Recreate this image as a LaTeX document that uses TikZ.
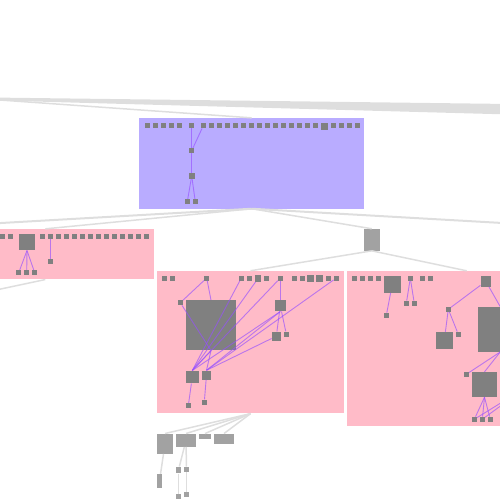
\documentclass[tikz,border=0pt]{standalone}
\usetikzlibrary{calc}
\definecolor{morado}{RGB}{185,172,255}
\definecolor{rosa}{RGB}{255,187,200}
\definecolor{gris}{RGB}{128,128,128}
\definecolor{grisclaro}{RGB}{162,162,162}
\definecolor{linea}{RGB}{222,222,222}
\definecolor{violeta}{RGB}{150,80,255}

\begin{document}
\begin{tikzpicture}[x=1pt, y=-1pt,
  caja/.style={inner sep=0pt, draw=none},
  nodo/.style={fill=gris, inner sep=0pt, minimum size=#1},
  nodo/.default=5pt,
  hoja/.style 2 args={fill=grisclaro, inner sep=0pt, minimum width=#1, minimum height=#2},
  enlace/.style={draw=linea, line width=1.5pt},
  arista/.style={draw=violeta, draw opacity=0.65, line width=0.9pt}]
  \useasboundingbox (0,0) rectangle (500,500);
  \clip (0,0) rectangle (500,500);
  % franja superior
  \fill[linea] (-10,97.5) -- (510,104) -- (510,114.5) -- (-10,100.3) -- cycle;
  % cajas
  \node[caja, fill=morado, minimum width=225pt, minimum height=90.5pt] (morado) at (251.7,163.3) {};
  \node[caja, fill=rosa, minimum width=217pt, minimum height=50.3pt] (rosaI) at (45.3,254.2) {};
  \node[caja, fill=rosa, minimum width=187pt, minimum height=142.5pt] (rosaM) at (250.5,342.2) {};
  \node[caja, fill=rosa, minimum width=239.4pt, minimum height=155pt] (rosaD) at (466.7,348.5) {};
  \node[hoja={15.7pt}{21.7pt}] (g) at (371.8,239.8) {};
  % puntos fuera del dibujo
  \coordinate (fArriba) at (-20,98.6);
  \coordinate (fIzq) at (-20,224.2);
  \coordinate (fDer) at (520,224);
  \coordinate (fAbajo) at (-20,293.4);
  \coordinate (fR) at (525,388);
  % enlaces grises
  \draw[enlace] (fArriba) -- (morado.north);
  \draw[enlace, line width=2pt] (morado.south) -- (fIzq);
  \draw[enlace, line width=2pt] (morado.south) -- (fDer);
  \draw[enlace] (morado.south) -- (rosaI.north);
  \draw[enlace] (morado.south) -- (g.north);
  \draw[enlace] (g.south) -- (rosaM.north);
  \draw[enlace] (g.south) -- (rosaD.north);
  \draw[enlace] (rosaI.south) -- (fAbajo);
  % caja morada
  \foreach \i in {0,...,4} \node[nodo] (pa\i) at ({147.3+8*\i},125.7) {};
  \node[nodo] (pb) at (191.7,125.7) {};
  \foreach \i in {0,...,14} \node[nodo] (pc\i) at ({203.3+8*\i},125.7) {};
  \node[nodo=7pt] (pd) at (324.3,126.5) {};
  \foreach \i in {0,...,3} \node[nodo] (pe\i) at ({333.7+8*\i},125.7) {};
  \node[nodo] (p1) at (191.7,150.7) {};
  \node[nodo=6pt] (p2) at (191.7,176) {};
  \node[nodo] (p3) at (187.3,201.7) {};
  \node[nodo] (p4) at (195.3,201.7) {};
  \draw[arista] (pb) -- (p1);
  \draw[arista] (pc0) -- (p1);
  \draw[arista] (p1) -- (p2);
  \draw[arista] (p2) -- (p3);
  \draw[arista] (p2) -- (p4);
  % caja rosa izquierda
  \node[nodo] (ia0) at (2.7,236.7) {};
  \node[nodo] (ia1) at (10.7,236.7) {};
  \node[nodo=16pt] (ib) at (27,242.3) {};
  \foreach \i in {0,...,13} \node[nodo] (ic\i) at ({42.7+8*\i},236.7) {};
  \foreach \i in {0,1,2} \node[nodo] (id\i) at ({18.7+8*\i},272.7) {};
  \node[nodo] (ie) at (50.7,261.7) {};
  \foreach \i in {0,1,2} \draw[arista] (ib.south) -- (id\i);
  \draw[arista] (ic1) -- (ie);
  % caja rosa central
  \node[nodo] (ma0) at (164.3,278) {};
  \node[nodo] (ma1) at (172.3,278) {};
  \node[nodo] (mb) at (206.7,278) {};
  \node[nodo] (mc0) at (241.3,278) {};
  \node[nodo] (mc1) at (249.3,278) {};
  \node[nodo=6.5pt] (mc2) at (258,278.5) {};
  \node[nodo] (mc3) at (266.3,278) {};
  \node[nodo] (md) at (280.3,278) {};
  \node[nodo] (me0) at (294.3,278) {};
  \node[nodo] (me1) at (302.3,278) {};
  \node[nodo=6.5pt] (me2) at (310.7,278.5) {};
  \node[nodo=6.5pt] (me3) at (319.7,278.5) {};
  \node[nodo] (me4) at (328.3,278) {};
  \node[nodo] (me5) at (336.3,278) {};
  \node[nodo] (mf) at (180.3,302.7) {};
  \node[nodo=50pt] (mg) at (211,325.3) {};
  \node[nodo=11pt] (mh) at (280.3,305.8) {};
  \node[nodo=9pt] (mi) at (276.3,336.2) {};
  \node[nodo] (mj) at (286.3,334) {};
  \node[nodo=12.7pt] (mk) at (192.3,377) {};
  \node[nodo=9pt] (ml) at (206.5,375) {};
  \node[nodo] (mm) at (188.3,405.7) {};
  \node[nodo] (mn) at (204.3,402) {};
  \draw[arista] (mb) -- (mf);
  \draw[arista] (mb) -- (mg.north);
  \draw[arista] (mf) -- (mg.south);
  \draw[arista] (mg.south) -- (mk.north);
  \draw[arista] (mg.south) -- (ml.north);
  \draw[arista] (mc0) -- (mk.north);
  \draw[arista] (mc2) -- (mk.north);
  \draw[arista] (md) -- (mk.north);
  \draw[arista] (md) -- (mh);
  \draw[arista] (mh) -- (mi);
  \draw[arista] (mh) -- (mj);
  \draw[arista] (mh.south) -- (mk.north);
  \draw[arista] (mh.south) -- (ml.north);
  \draw[arista] (mi) -- (ml.north);
  \draw[arista] (me5) -- (ml.north);
  \draw[arista] (mk) -- (mm);
  \draw[arista] (ml) -- (mn);
  % caja rosa derecha
  \foreach \i in {0,...,3} \node[nodo] (ra\i) at ({354.3+8*\i},278.3) {};
  \node[nodo=16.7pt] (rb) at (392.3,284.3) {};
  \node[nodo] (rc) at (410.3,278.3) {};
  \node[nodo] (rd0) at (422.3,278.3) {};
  \node[nodo] (rd1) at (430.3,278.3) {};
  \node[nodo=10.5pt] (re) at (485.8,281.3) {};
  \node[nodo] (rf) at (386.3,315.3) {};
  \node[nodo] (rg0) at (406.3,303.3) {};
  \node[nodo] (rg1) at (414.3,303.3) {};
  \node[nodo] (rh) at (448.3,309.3) {};
  \node[nodo=16.7pt] (ri) at (444.3,340.3) {};
  \node[nodo] (rj) at (458.3,334.3) {};
  \node[nodo=45pt] (rk) at (500.2,329.3) {};
  \node[nodo] (rl) at (466.3,374.3) {};
  \node[nodo=25pt] (rm) at (484.5,384.5) {};
  \foreach \i in {0,1,2} \node[nodo] (rn\i) at ({474.3+8*\i},419.3) {};
  \draw[arista] (rb) -- (rf);
  \draw[arista] (rc) -- (rg0);
  \draw[arista] (rc) -- (rg1);
  \draw[arista] (re) -- (rh);
  \draw[arista] (re) -- (rk.north);
  \draw[arista] (rh) -- (ri);
  \draw[arista] (rh) -- (rj);
  \draw[arista] (rk.south) -- (rl);
  \draw[arista] (rk.south) -- (rm.north);
  \foreach \i in {0,1,2} \draw[arista] (rm.south) -- (rn\i);
  \draw[arista] (fR) -- (rn0);
  \draw[arista] (fR) -- (rn1);
  % nodos de abajo
  \node[hoja={16pt}{20pt}] (sa) at (165,443.7) {};
  \node[hoja={20pt}{13pt}] (sb) at (186,440.2) {};
  \node[hoja={12pt}{5.3pt}] (sc) at (205,436.4) {};
  \node[hoja={20pt}{10pt}] (sd) at (224,438.7) {};
  \node[hoja={5pt}{13.7pt}] (se) at (159.5,480.9) {};
  \node[hoja={5pt}{6.6pt}] (sf) at (178.5,470) {};
  \node[hoja={5pt}{5pt}] (sg) at (186.5,469.2) {};
  \node[hoja={5pt}{5pt}] (sh) at (178.5,496.2) {};
  \node[hoja={5pt}{5pt}] (si) at (186.5,494.2) {};
  \foreach \n in {sa,sb,sc,sd} \draw[enlace] (rosaM.south) -- (\n.north);
  \draw[enlace] (sa) -- (se);
  \draw[enlace] (sb) -- (sf);
  \draw[enlace] (sb) -- (sg);
  \draw[enlace] (sf) -- (sh);
  \draw[enlace] (sg) -- (si);
\end{tikzpicture}
\end{document}
